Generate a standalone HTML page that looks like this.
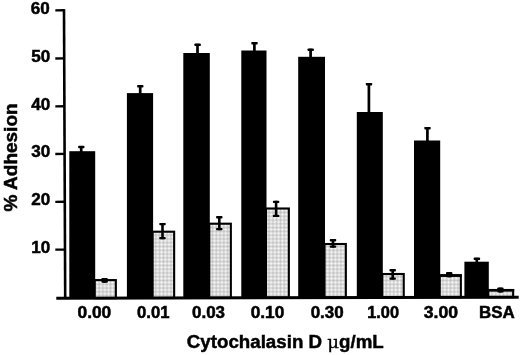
<!DOCTYPE html>
<html lang="en"><head><meta charset="utf-8"><title>Cytochalasin D adhesion</title>
<style>html,body{margin:0;padding:0;background:#fff}body{width:520px;height:355px;overflow:hidden}svg{display:block}text{font-family:"Liberation Sans",sans-serif;font-weight:bold;fill:#000}</style></head><body>
<svg width="520" height="355" viewBox="0 0 520 355">
<defs><pattern id="g" width="1.36" height="1.36" patternUnits="userSpaceOnUse"><rect width="1.36" height="1.36" fill="#fff"/><rect width="1.36" height="0.33" fill="#a8a8a8"/><rect width="0.33" height="1.36" fill="#a8a8a8"/></pattern></defs>
<rect width="520" height="355" fill="#fff"/>
<rect x="94.70" y="280.10" width="21.15" height="18.08" fill="url(#g)" stroke="#000" stroke-width="2.1"/>
<rect x="152.60" y="231.70" width="21.55" height="66.33" fill="url(#g)" stroke="#000" stroke-width="2.1"/>
<rect x="209.30" y="223.70" width="21.55" height="74.19" fill="url(#g)" stroke="#000" stroke-width="2.1"/>
<rect x="266.00" y="208.50" width="22.85" height="89.25" fill="url(#g)" stroke="#000" stroke-width="2.1"/>
<rect x="324.50" y="244.00" width="21.35" height="53.60" fill="url(#g)" stroke="#000" stroke-width="2.1"/>
<rect x="382.30" y="274.00" width="21.45" height="23.46" fill="url(#g)" stroke="#000" stroke-width="2.1"/>
<rect x="439.70" y="275.30" width="21.15" height="22.02" fill="url(#g)" stroke="#000" stroke-width="2.1"/>
<rect x="488.30" y="290.00" width="24.85" height="7.19" fill="url(#g)" stroke="#000" stroke-width="2.1"/>
<rect x="440.20" y="274.30" width="21.70" height="2.6" fill="#000"/>
<rect x="488.80" y="289.00" width="25.40" height="2.6" fill="#000"/>
<rect x="69.30" y="151.20" width="25.90" height="147.04" fill="#000"/>
<rect x="79.85" y="146.00" width="2.7" height="6.20" fill="#000"/>
<rect x="78.15" y="145.80" width="6.3" height="2.5" rx="0.7" fill="#000"/>
<rect x="126.90" y="93.10" width="26.20" height="204.99" fill="#000"/>
<rect x="138.85" y="85.20" width="2.7" height="8.90" fill="#000"/>
<rect x="137.15" y="85.00" width="6.3" height="2.5" rx="0.7" fill="#000"/>
<rect x="183.30" y="53.00" width="26.50" height="244.95" fill="#000"/>
<rect x="196.15" y="43.80" width="2.7" height="10.20" fill="#000"/>
<rect x="194.45" y="43.60" width="6.3" height="2.5" rx="0.7" fill="#000"/>
<rect x="241.30" y="50.50" width="25.20" height="247.31" fill="#000"/>
<rect x="253.05" y="42.10" width="2.7" height="9.40" fill="#000"/>
<rect x="251.35" y="41.90" width="6.3" height="2.5" rx="0.7" fill="#000"/>
<rect x="298.20" y="56.80" width="26.80" height="240.87" fill="#000"/>
<rect x="309.25" y="48.70" width="2.7" height="9.10" fill="#000"/>
<rect x="307.55" y="48.50" width="6.3" height="2.5" rx="0.7" fill="#000"/>
<rect x="356.80" y="112.00" width="26.00" height="185.52" fill="#000"/>
<rect x="367.55" y="83.10" width="2.7" height="29.90" fill="#000"/>
<rect x="365.85" y="82.90" width="6.3" height="2.5" rx="0.7" fill="#000"/>
<rect x="414.00" y="140.50" width="26.20" height="156.88" fill="#000"/>
<rect x="426.05" y="127.10" width="2.7" height="14.40" fill="#000"/>
<rect x="424.35" y="126.90" width="6.3" height="2.5" rx="0.7" fill="#000"/>
<rect x="464.40" y="261.70" width="24.40" height="35.55" fill="#000"/>
<rect x="475.45" y="257.80" width="2.7" height="4.90" fill="#000"/>
<rect x="473.75" y="257.60" width="6.3" height="2.5" rx="0.7" fill="#000"/>
<rect x="103.30" y="278.10" width="2.6" height="4.70" fill="#000"/>
<rect x="101.40" y="278.10" width="6.4" height="4.70" rx="1" fill="#000"/>
<rect x="161.20" y="223.00" width="2.6" height="16.20" fill="#000"/>
<rect x="159.30" y="222.90" width="6.4" height="2.3" rx="0.7" fill="#000"/>
<rect x="159.30" y="237.00" width="6.4" height="2.3" rx="0.7" fill="#000"/>
<rect x="218.00" y="216.20" width="2.6" height="14.00" fill="#000"/>
<rect x="216.10" y="216.10" width="6.4" height="2.3" rx="0.7" fill="#000"/>
<rect x="216.10" y="228.00" width="6.4" height="2.3" rx="0.7" fill="#000"/>
<rect x="274.80" y="200.80" width="2.6" height="16.20" fill="#000"/>
<rect x="272.90" y="200.70" width="6.4" height="2.3" rx="0.7" fill="#000"/>
<rect x="272.90" y="214.80" width="6.4" height="2.3" rx="0.7" fill="#000"/>
<rect x="331.70" y="239.20" width="2.6" height="8.50" fill="#000"/>
<rect x="329.80" y="239.10" width="6.4" height="2.3" rx="0.7" fill="#000"/>
<rect x="329.80" y="245.50" width="6.4" height="2.3" rx="0.7" fill="#000"/>
<rect x="391.40" y="269.20" width="2.6" height="10.40" fill="#000"/>
<rect x="389.50" y="269.10" width="6.4" height="2.3" rx="0.7" fill="#000"/>
<rect x="389.50" y="277.40" width="6.4" height="2.3" rx="0.7" fill="#000"/>
<rect x="447.90" y="272.00" width="2.6" height="5.30" fill="#000"/>
<rect x="446.00" y="272.00" width="6.4" height="5.30" rx="1" fill="#000"/>
<rect x="499.10" y="287.60" width="2.6" height="5.00" fill="#000"/>
<rect x="497.20" y="287.60" width="6.4" height="5.00" rx="1" fill="#000"/>
<line x1="64.0" y1="9.2" x2="65.2" y2="299" stroke="#000" stroke-width="2.6"/>
<line x1="56.3" y1="298.3" x2="518.7" y2="297.15" stroke="#000" stroke-width="3.0"/>
<line x1="55.3" y1="10.40" x2="64.5" y2="10.25" stroke="#000" stroke-width="2.3"/>
<text x="49.80" y="13.80" font-size="17" text-anchor="end" textLength="19.0" lengthAdjust="spacingAndGlyphs" stroke="#000" stroke-width="0.5">60</text>
<line x1="55.3" y1="58.50" x2="64.5" y2="58.35" stroke="#000" stroke-width="2.3"/>
<text x="50.30" y="61.90" font-size="17" text-anchor="end" textLength="19.0" lengthAdjust="spacingAndGlyphs" stroke="#000" stroke-width="0.5">50</text>
<line x1="55.3" y1="106.40" x2="64.5" y2="106.25" stroke="#000" stroke-width="2.3"/>
<text x="50.30" y="110.00" font-size="17" text-anchor="end" textLength="19.0" lengthAdjust="spacingAndGlyphs" stroke="#000" stroke-width="0.5">40</text>
<line x1="55.3" y1="154.00" x2="64.5" y2="153.85" stroke="#000" stroke-width="2.3"/>
<text x="50.30" y="156.70" font-size="17" text-anchor="end" textLength="19.0" lengthAdjust="spacingAndGlyphs" stroke="#000" stroke-width="0.5">30</text>
<line x1="55.3" y1="201.90" x2="64.5" y2="201.75" stroke="#000" stroke-width="2.3"/>
<text x="50.30" y="204.90" font-size="17" text-anchor="end" textLength="19.0" lengthAdjust="spacingAndGlyphs" stroke="#000" stroke-width="0.5">20</text>
<line x1="55.3" y1="249.70" x2="64.5" y2="249.55" stroke="#000" stroke-width="2.3"/>
<text x="50.30" y="253.10" font-size="17" text-anchor="end" textLength="19.0" lengthAdjust="spacingAndGlyphs" stroke="#000" stroke-width="0.5">10</text>
<text x="77.50" y="317.7" font-size="16.2" textLength="33.75" lengthAdjust="spacingAndGlyphs" stroke="#000" stroke-width="0.5">0.00</text>
<text x="137.10" y="317.7" font-size="16.2" textLength="32.40" lengthAdjust="spacingAndGlyphs" stroke="#000" stroke-width="0.5">0.01</text>
<text x="192.00" y="317.7" font-size="16.2" textLength="33.00" lengthAdjust="spacingAndGlyphs" stroke="#000" stroke-width="0.5">0.03</text>
<text x="250.75" y="317.7" font-size="16.2" textLength="33.55" lengthAdjust="spacingAndGlyphs" stroke="#000" stroke-width="0.5">0.10</text>
<text x="310.70" y="317.7" font-size="16.2" textLength="33.00" lengthAdjust="spacingAndGlyphs" stroke="#000" stroke-width="0.5">0.30</text>
<text x="367.20" y="317.7" font-size="16.2" textLength="31.80" lengthAdjust="spacingAndGlyphs" stroke="#000" stroke-width="0.5">1.00</text>
<text x="423.75" y="317.7" font-size="16.2" textLength="34.25" lengthAdjust="spacingAndGlyphs" stroke="#000" stroke-width="0.5">3.00</text>
<text x="479.00" y="317.7" font-size="16.2" textLength="35.75" lengthAdjust="spacingAndGlyphs" stroke="#000" stroke-width="0.5">BSA</text>
<text x="186.8" y="347.8" font-size="18" textLength="197" lengthAdjust="spacingAndGlyphs" stroke="#000" stroke-width="0.45">Cytochalasin D <tspan font-family="'DejaVu Serif','Liberation Serif',serif" font-weight="normal" font-size="17.5" stroke-width="0.3">μ</tspan>g/mL</text>
<text transform="translate(16.8,211.4) rotate(-90)" font-size="18.4" textLength="108" lengthAdjust="spacingAndGlyphs" stroke="#000" stroke-width="0.5">% Adhesion</text>
</svg></body></html>
